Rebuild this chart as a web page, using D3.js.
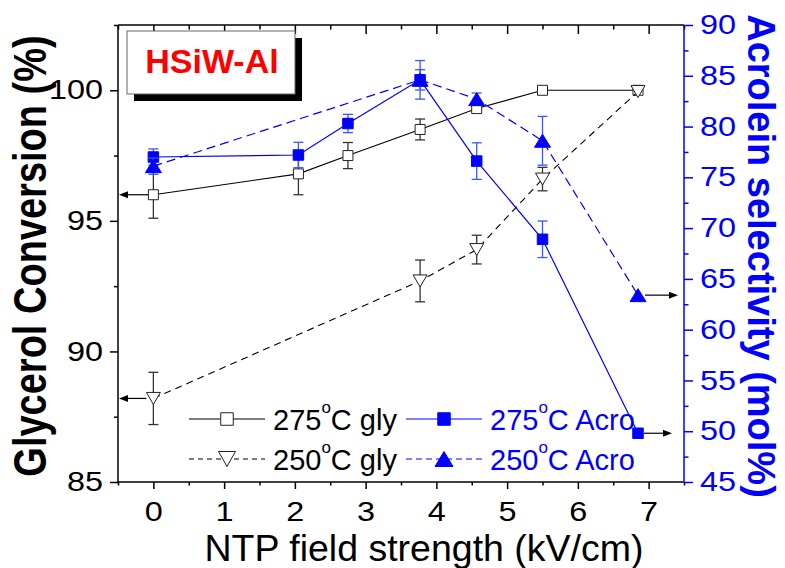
<!DOCTYPE html>
<html><head><meta charset="utf-8">
<script src="https://cdn.jsdelivr.net/npm/d3@7/dist/d3.min.js"></script>
<style>body{margin:0;background:#fff} svg{display:block} text{font-family:"Liberation Sans",Arial,Helvetica,sans-serif}</style>
</head><body><svg id="c" width="785" height="568"></svg>
<script>
// ---- data ----
const fieldAll = [0, 2.05, 2.75, 3.77, 4.57, 5.5, 6.85];
const field250 = [0, 3.77, 4.57, 5.5, 6.85];
const gly275 = [96.0, 96.8, 97.5, 98.5, 99.3, 100.0, 100.0];
const gly275Err = [0.9, 0.8, 0.5, 0.4, 0, 0, 0];
const gly250 = [88.2, 92.7, 93.9, 96.6, 99.95];
const gly250Err = [1.0, 0.8, 0.55, 0.45, 0];
const acro275 = [77.0, 77.2, 80.3, 84.6, 76.6, 68.9, 49.8];
const acro275Err = [0.8, 1.25, 0.9, 1.0, 1.8, 1.8, 0];
const acro250 = [76.1, 84.6, 82.7, 78.6, 63.4];
const acro250Err = [0.8, 1.9, 0.6, 2.4, 0];
const xTicks = [0, 1, 2, 3, 4, 5, 6, 7];
const xMinor = [-0.5, 0.5, 1.5, 2.5, 3.5, 4.5, 5.5, 6.5, 7.5];
const yLeftTicks = [85, 90, 95, 100];
const yLeftMinor = [87.5, 92.5, 97.5, 102.5];
const yRightTicks = [45, 50, 55, 60, 65, 70, 75, 80, 85, 90];
const yRightMinor = [47.5, 52.5, 57.5, 62.5, 67.5, 72.5, 77.5, 82.5, 87.5];
const legendLabels = ["275", "250"];

const BLUE = "#0000ff";
const svg = d3.select("#c");
const L = 118, R = 684, T = 25, B = 482;
const x = d3.scaleLinear().domain([-0.5, 7.5]).range([L, R]);
const yL = d3.scaleLinear().domain([85, 102.5]).range([B, T]);
const yR = d3.scaleLinear().domain([45, 90]).range([B, T]);

const SX = 1.2; // horizontal stretch of tick labels
function styleAxis(g, color) {
  g.select(".domain").remove();
  g.selectAll("line").attr("stroke", color).attr("stroke-width", 1.5);
  g.selectAll("text").attr("fill", color).style("font-size", "27px");
}
// bottom
const gb = svg.append("g").attr("transform", `translate(0,${B})`)
  .call(d3.axisBottom(x).tickValues(xTicks).tickSize(7).tickFormat(d3.format("d")));
styleAxis(gb, "#000");
gb.selectAll("text").attr("y", 39).attr("dy", 0).attr("transform", `scale(${SX},1)`);
const gbm = svg.append("g").attr("transform", `translate(0,${B})`)
  .call(d3.axisBottom(x).tickValues(xMinor).tickSize(3.5).tickFormat(""));
styleAxis(gbm, "#000");
// top
const gt = svg.append("g").attr("transform", `translate(0,${T})`)
  .call(d3.axisTop(x).tickValues(xTicks).tickSize(-9).tickFormat(""));
styleAxis(gt, "#000");
const gtm = svg.append("g").attr("transform", `translate(0,${T})`)
  .call(d3.axisTop(x).tickValues(xMinor).tickSize(-4.5).tickFormat(""));
styleAxis(gtm, "#000");
// left
const gl = svg.append("g").attr("transform", `translate(${L},0)`)
  .call(d3.axisLeft(yL).tickValues(yLeftTicks).tickSize(8).tickFormat(d3.format("d")));
styleAxis(gl, "#000");
gl.selectAll("text").attr("x", -15 / SX).attr("transform", `scale(${SX},1)`);
const glm = svg.append("g").attr("transform", `translate(${L},0)`)
  .call(d3.axisLeft(yL).tickValues(yLeftMinor).tickSize(4).tickFormat(""));
styleAxis(glm, "#000");
// right
const gr = svg.append("g").attr("transform", `translate(${R},0)`)
  .call(d3.axisRight(yR).tickValues(yRightTicks).tickSize(9).tickFormat(d3.format("d")));
styleAxis(gr, BLUE);
gr.selectAll("text").attr("x", 16 / SX).attr("transform", `scale(${SX},1)`);
const grm = svg.append("g").attr("transform", `translate(${R},0)`)
  .call(d3.axisRight(yR).tickValues(yRightMinor).tickSize(4.5).tickFormat(""));
styleAxis(grm, BLUE);

// frame lines
svg.append("line").attr("x1", L).attr("x2", R).attr("y1", T).attr("y2", T).attr("stroke", "#000").attr("stroke-width", 1.5);
svg.append("line").attr("x1", L).attr("x2", R).attr("y1", B).attr("y2", B).attr("stroke", "#000").attr("stroke-width", 1.5);
svg.append("line").attr("x1", L).attr("x2", L).attr("y1", T).attr("y2", B).attr("stroke", "#000").attr("stroke-width", 1.5);
svg.append("line").attr("x1", R).attr("x2", R).attr("y1", T).attr("y2", B).attr("stroke", BLUE).attr("stroke-width", 1.5);

// axis titles
svg.append("text").attr("x", 424).attr("y", 561).attr("text-anchor", "middle")
  .style("font-size", "37.5px").text("NTP field strength (kV/cm)");
svg.append("text").attr("transform", `translate(46,256) scale(1.2,1) rotate(-90)`)
  .attr("text-anchor", "middle").style("font-size", "38px").style("font-weight", "bold")
  .text("Glycerol Conversion (%)");
svg.append("text").attr("transform", `translate(748,256) rotate(90)`)
  .attr("text-anchor", "middle").style("font-size", "38px").style("font-weight", "bold")
  .attr("fill", BLUE).text("Acrolein selectivity (mol%)");

// title box
svg.append("rect").attr("x", 134).attr("y", 38).attr("width", 168).attr("height", 63).attr("fill", "#000");
svg.append("rect").attr("x", 127).attr("y", 31).attr("width", 168).attr("height", 63).attr("fill", "#fff").attr("stroke", "#666").attr("stroke-width", 1);
svg.append("text").attr("x", 212).attr("y", 73).attr("text-anchor", "middle").attr("fill", "#ff0000")
  .style("font-size", "34px").style("font-weight", "bold").text("HSiW-Al");

// marker shapes
function sq(s) { return `M${-s/2},${-s/2}H${s/2}V${s/2}H${-s/2}Z`; }
function triUp(w, h) { return `M0,${-h/2}L${w/2},${h/2}L${-w/2},${h/2}Z`; }
function triDown(w, h) { return `M0,${h/2}L${w/2},${-h/2}L${-w/2},${-h/2}Z`; }

function series(xs, ys, errs, yScale, o) {
  const pts = xs.map((d, i) => ({ x: d, y: ys[i], e: errs[i] }));
  const g = svg.append("g");
  g.append("path").datum(pts)
    .attr("d", d3.line().x(d => x(d.x)).y(d => yScale(d.y)))
    .attr("fill", "none").attr("stroke", o.color).attr("stroke-width", o.lw)
    .attr("stroke-dasharray", o.dash || null);
  const eg = g.selectAll(".err").data(pts.filter(d => d.e > 0)).join("g")
    .attr("stroke", o.errColor).attr("stroke-width", 1.3);
  eg.append("line").attr("x1", d => x(d.x)).attr("x2", d => x(d.x))
    .attr("y1", d => yScale(d.y - d.e)).attr("y2", d => yScale(d.y + d.e));
  eg.append("line").attr("x1", d => x(d.x) - 5).attr("x2", d => x(d.x) + 5)
    .attr("y1", d => yScale(d.y - d.e)).attr("y2", d => yScale(d.y - d.e));
  eg.append("line").attr("x1", d => x(d.x) - 5).attr("x2", d => x(d.x) + 5)
    .attr("y1", d => yScale(d.y + d.e)).attr("y2", d => yScale(d.y + d.e));
  g.selectAll(".m").data(pts).join("path")
    .attr("transform", d => `translate(${x(d.x)},${yScale(d.y)})`)
    .attr("d", o.shape).attr("fill", o.fill).attr("stroke", o.stroke).attr("stroke-width", 1);
  return pts;
}

const s1 = series(fieldAll, gly275, gly275Err, yL, { color: "#000", lw: 1.1, errColor: "#333", shape: sq(10), fill: "#fff", stroke: "#222" });
const s2 = series(field250, gly250, gly250Err, yL, { color: "#000", lw: 1.1, dash: "7,5", errColor: "#333", shape: triDown(14, 12), fill: "#fff", stroke: "#222" });
const s3 = series(fieldAll, acro275, acro275Err, yR, { color: BLUE, lw: 1.2, errColor: "#3a55ff", shape: sq(10.5), fill: BLUE, stroke: BLUE });
const s4 = series(field250, acro250, acro250Err, yR, { color: BLUE, lw: 1.2, dash: "9,5", errColor: "#3a55ff", shape: triUp(16, 13), fill: BLUE, stroke: BLUE });

// arrows pointing to axes
function arrow(x1, y, x2) {
  const dir = Math.sign(x2 - x1);
  svg.append("line").attr("x1", x1).attr("x2", x2 - dir * 7).attr("y1", y).attr("y2", y).attr("stroke", "#000").attr("stroke-width", 1.2);
  svg.append("path").attr("d", `M${x2},${y}L${x2 - dir * 9},${y - 3.5}L${x2 - dir * 9},${y + 3.5}Z`).attr("fill", "#000");
}
arrow(x(s1[0].x) - 5, yL(s1[0].y), L + 1);
arrow(x(s2[0].x) - 7, yL(s2[0].y), L + 1);
arrow(x(s3[6].x) + 6, yR(s3[6].y), R - 12);
arrow(x(s4[4].x) + 7, yR(s4[4].y), R - 6);

// legend
function legendItem(x0, y, color, dash, shape, fill, stroke, label, tail) {
  svg.append("line").attr("x1", x0).attr("x2", x0 + 76).attr("y1", y).attr("y2", y)
    .attr("stroke", color).attr("stroke-width", 1.1).attr("stroke-dasharray", dash || null);
  svg.append("path").attr("transform", `translate(${x0 + 38},${y})`).attr("d", shape)
    .attr("fill", fill).attr("stroke", stroke).attr("stroke-width", 1);
  const t = svg.append("text").attr("x", x0 + 84).attr("y", y + 11).attr("fill", color).style("font-size", "29px");
  t.append("tspan").text(label);
  t.append("tspan").attr("dy", -17).style("font-size", "17px").text("o");
  t.append("tspan").attr("dy", 17).text("C " + tail);
}
legendItem(189, 419, "#000", null, sq(12.5), "#fff", "#222", legendLabels[0], "gly");
legendItem(406, 419, BLUE, null, sq(12.5), BLUE, BLUE, legendLabels[0], "Acro");
legendItem(189, 459, "#000", "5,4", triDown(17, 15), "#fff", "#222", legendLabels[1], "gly");
legendItem(406, 459, BLUE, "6,4", triUp(18, 15), BLUE, BLUE, legendLabels[1], "Acro");
</script></body></html>
